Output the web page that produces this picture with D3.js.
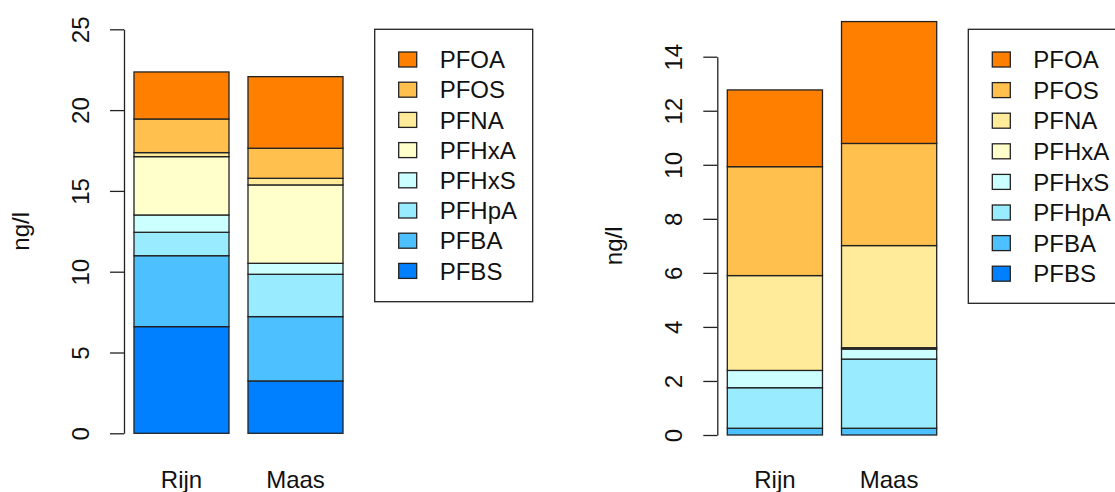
<!DOCTYPE html>
<html>
<head>
<meta charset="utf-8">
<script src="https://cdn.jsdelivr.net/npm/d3@7"></script>
<style>
  body { margin: 0; background: #fff; }
  text { font-family: "Liberation Sans", Arial, sans-serif; fill: #111; }
</style>
</head>
<body>
<svg id="chart" width="1115" height="492"></svg>
<script>
// stacking order, bottom -> top
const compounds = ["PFBS", "PFBA", "PFHpA", "PFHxS", "PFHxA", "PFNA", "PFOS", "PFOA"];
const colors    = ["#0080ff", "#4dc0ff", "#99ebff", "#ccffff", "#ffffcc", "#ffeb99", "#ffc04d", "#ff8000"];
const sites = ["Rijn", "Maas"];

// left panel (ng/l)
const leftRijn = [6.60, 4.39, 1.45, 1.07, 3.61, 0.25, 2.08, 2.91];
const leftMaas = [3.24, 3.98, 2.62, 0.68, 4.85, 0.41, 1.86, 4.43];
const leftTicks = [0, 5, 10, 15, 20, 25];

// right panel (ng/l)
const rightRijn = [0, 0.25, 1.50, 0.64, 0, 3.51, 4.03, 2.84];
const rightMaas = [0, 0.25, 2.56, 0.37, 0.05, 3.78, 3.78, 4.51];
const rightTicks = [0, 2, 4, 6, 8, 10, 12, 14];

const svg = d3.select("#chart");

function drawPanel(opt) {
  const rows = sites.map((s, i) => {
    const r = {site: s};
    compounds.forEach((c, j) => r[c] = opt.values[i][j]);
    return r;
  });

  const x = d3.scaleBand().domain(sites).range(opt.xRange).paddingInner(0.2 / 1.2);
  const y = d3.scaleLinear()
    .domain([opt.ticks[0], opt.ticks[opt.ticks.length - 1]])
    .range(opt.yRange);

  const stacked = d3.stack().keys(compounds)(rows);

  const g = svg.append("g");

  g.selectAll("g.layer").data(stacked).join("g")
    .attr("class", "layer")
    .attr("fill", (d, i) => colors[i])
    .selectAll("rect").data(d => d).join("rect")
      .attr("x", d => x(d.data.site))
      .attr("width", x.bandwidth())
      .attr("y", d => y(d[1]))
      .attr("height", d => y(d[0]) - y(d[1]))
      .attr("stroke", "#222")
      .attr("stroke-width", 1.3);

  // y axis, R style with rotated labels
  const axis = d3.axisLeft(y).tickValues(opt.ticks).tickSize(14).tickSizeOuter(0);
  const ga = g.append("g")
    .attr("transform", `translate(${opt.axisX},0)`)
    .call(axis);
  ga.select(".domain").attr("stroke", "#222").attr("stroke-width", 1.3);
  ga.selectAll(".tick line").attr("stroke", "#222").attr("stroke-width", 1.3);
  ga.selectAll(".tick text")
    .attr("x", 0).attr("y", -35).attr("dy", 0)
    .attr("text-anchor", "middle")
    .attr("transform", "rotate(-90)")
    .style("font-size", "24px")
    .style("font-family", "Liberation Sans, Arial, sans-serif")
    .attr("fill", "#111");

  // y label
  const midY = (opt.yRange[0] + opt.yRange[1]) / 2;
  g.append("text")
    .attr("transform", `translate(${opt.axisX - 95},${midY}) rotate(-90)`)
    .attr("text-anchor", "middle")
    .style("font-size", "24px")
    .text("ng/l");

  // category labels
  g.selectAll("text.cat").data(sites).join("text")
    .attr("class", "cat")
    .attr("x", d => x(d) + x.bandwidth() / 2)
    .attr("y", 488)
    .attr("text-anchor", "middle")
    .style("font-size", "24px")
    .text(d => d);

  // legend
  const lg = g.append("g").attr("transform", `translate(${opt.legend.x},${opt.legend.y})`);
  lg.append("rect")
    .attr("width", 158).attr("height", opt.legend.h)
    .attr("fill", "none").attr("stroke", "#222").attr("stroke-width", 1.3);
  const items = compounds.map((c, i) => ({name: c, color: colors[i]})).reverse();
  const row = lg.selectAll("g.item").data(items).join("g")
    .attr("class", "item")
    .attr("transform", (d, i) => `translate(0,${opt.legend.first + i * opt.legend.step})`);
  row.append("rect")
    .attr("x", 24).attr("y", -7.5).attr("width", 18).attr("height", 15)
    .attr("fill", d => d.color).attr("stroke", "#222").attr("stroke-width", 1.3);
  row.append("text")
    .attr("x", 65).attr("y", 8.6)
    .style("font-size", "24px")
    .text(d => d.name);
}

drawPanel({
  values: [leftRijn, leftMaas], ticks: leftTicks,
  xRange: [134, 343], yRange: [433.3, 29.3], axisX: 124,
  legend: {x: 374.7, y: 29.3, h: 272.4, first: 30.2, step: 30.2}
});

drawPanel({
  values: [rightRijn, rightMaas], ticks: rightTicks,
  xRange: [727.3, 936.7], yRange: [435, 56.7], axisX: 717.3,
  legend: {x: 968.3, y: 29.3, h: 274, first: 30.2, step: 30.6}
});
</script>
</body>
</html>
